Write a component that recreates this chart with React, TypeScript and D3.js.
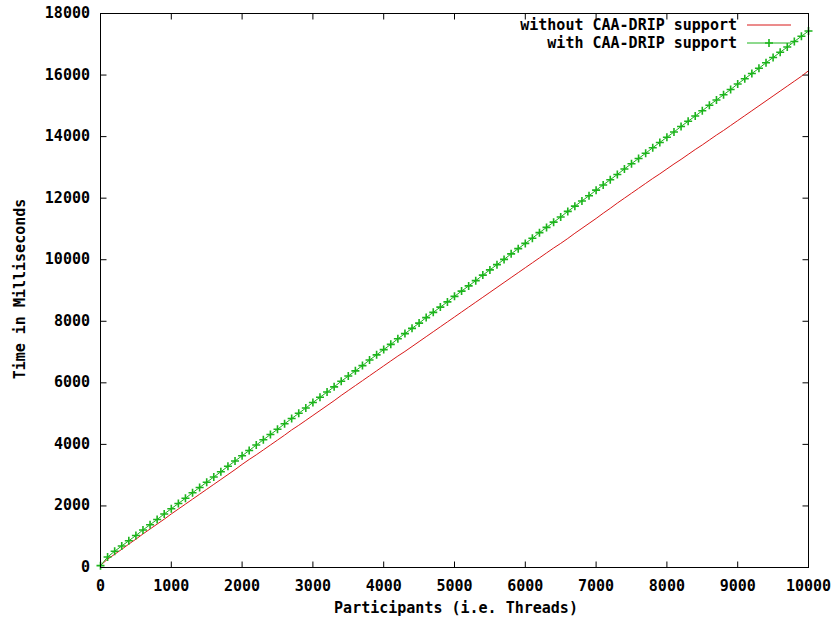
import React, { useEffect, useRef } from "react";
import * as d3 from "d3";

// participants sampled every 100 threads
const threads = d3.range(0, 10001, 100);

const withoutSupport = [
  70, 270, 430, 590, 760, 920, 1090, 1250, 1410, 1570, 1740, 1900, 2060, 2220, 2380, 2540, 2700, 2860, 3020, 3180,
  3350, 3510, 3660, 3820, 3980, 4140, 4300, 4470, 4620, 4780, 4940, 5100, 5260, 5420, 5590, 5750, 5910, 6070, 6230, 6390,
  6550, 6710, 6870, 7020, 7180, 7340, 7500, 7660, 7820, 7980, 8140, 8300, 8460, 8620, 8780, 8940, 9100, 9260, 9420, 9580,
  9740, 9900, 10060, 10220, 10380, 10530, 10690, 10860, 11020, 11180, 11340, 11510, 11670, 11840, 12000, 12160, 12320, 12480, 12640, 12790,
  12950, 13110, 13260, 13420, 13580, 13730, 13890, 14050, 14200, 14360, 14520, 14680, 14840, 15000, 15160, 15320, 15480, 15640, 15800, 15960,
  16140,
];

const withSupport = [
  60, 340, 530, 700, 870, 1040, 1220, 1390, 1560, 1740, 1910, 2080, 2250, 2430, 2600, 2770, 2940, 3110, 3290, 3460,
  3630, 3800, 3980, 4150, 4320, 4490, 4670, 4840, 5010, 5180, 5360, 5530, 5700, 5870, 6050, 6220, 6390, 6560, 6740, 6910,
  7080, 7250, 7430, 7600, 7770, 7940, 8120, 8290, 8460, 8630, 8810, 8980, 9150, 9320, 9500, 9670, 9840, 10010, 10190, 10360,
  10530, 10700, 10880, 11050, 11220, 11390, 11570, 11740, 11910, 12080, 12260, 12430, 12600, 12770, 12950, 13120, 13290, 13460, 13640, 13810,
  13980, 14150, 14330, 14500, 14670, 14840, 15020, 15190, 15360, 15530, 15710, 15880, 16050, 16220, 16400, 16570, 16740, 16910, 17090, 17260,
  17430,
];

const xTicks = d3.range(0, 10001, 1000);
const yTicks = d3.range(0, 18001, 2000);

const seriesNames = ["without CAA-DRIP support", "with CAA-DRIP support"];
const RED = "#d81818";
const GREEN = "#1cb41c";
const FONT = "'DejaVu Sans Mono', monospace";

const App = () => {
  const svgRef = useRef<SVGSVGElement>(null);

  useEffect(() => {
    const svg = d3.select(svgRef.current);
    svg.selectAll("*").remove();

    const left = 100.5, right = 808.5, top = 13.5, bottom = 567.5;
    const x = d3.scaleLinear().domain([0, 10000]).range([left, right]);
    const y = d3.scaleLinear().domain([0, 18000]).range([bottom, top]);
    const tl = 6;

    const g = svg.append("g");

    const label = (sel: any) =>
      sel
        .attr("dominant-baseline", "middle")
        .attr("font-family", FONT)
        .attr("font-weight", "bold")
        .attr("font-size", 15)
        .attr("fill", "#000");

    // ticks on all four sides, pointing inwards
    xTicks.forEach((t) => {
      g.append("line").attr("x1", x(t)).attr("x2", x(t)).attr("y1", bottom).attr("y2", bottom - tl).attr("stroke", "#000");
      g.append("line").attr("x1", x(t)).attr("x2", x(t)).attr("y1", top).attr("y2", top + tl).attr("stroke", "#000");
      g.append("text").attr("x", x(t)).attr("y", 586).attr("text-anchor", "middle").call(label).text(t);
    });
    yTicks.forEach((t) => {
      g.append("line").attr("x1", left).attr("x2", left + tl).attr("y1", y(t)).attr("y2", y(t)).attr("stroke", "#000");
      g.append("line").attr("x1", right).attr("x2", right - tl).attr("y1", y(t)).attr("y2", y(t)).attr("stroke", "#000");
      g.append("text").attr("x", 90).attr("y", y(t)).attr("text-anchor", "end").call(label).text(t);
    });

    const line = d3
      .line<number>()
      .x((d, i) => x(threads[i]))
      .y((d) => y(d));

    // red series
    g.append("path").datum(withoutSupport).attr("d", line).attr("fill", "none").attr("stroke", RED).attr("stroke-width", 1);

    // green series with + markers
    g.append("path").datum(withSupport).attr("d", line).attr("fill", "none").attr("stroke", GREEN).attr("stroke-width", 1);
    const m = 4;
    withSupport.forEach((v, i) => {
      const cx = x(threads[i]), cy = y(v);
      g.append("path")
        .attr("d", `M${cx - m},${cy}L${cx + m},${cy}M${cx},${cy - m}L${cx},${cy + m}`)
        .attr("stroke", GREEN)
        .attr("stroke-width", 1.6);
    });

    // border
    g.append("rect")
      .attr("x", left)
      .attr("y", top)
      .attr("width", right - left)
      .attr("height", bottom - top)
      .attr("fill", "none")
      .attr("stroke", "#000");

    // legend
    const legendY = [25, 43];
    const colors = [RED, GREEN];
    seriesNames.forEach((name, i) => {
      g.append("text").attr("x", 737).attr("y", legendY[i]).attr("text-anchor", "end").call(label).text(name);
      g.append("line")
        .attr("x1", 747)
        .attr("x2", 791)
        .attr("y1", legendY[i])
        .attr("y2", legendY[i])
        .attr("stroke", colors[i]);
    });
    g.append("path")
      .attr("d", `M769,${legendY[1] - 4}L769,${legendY[1] + 4}M765,${legendY[1]}L773,${legendY[1]}`)
      .attr("stroke", GREEN)
      .attr("stroke-width", 1.6);

    // axis titles
    g.append("text").attr("x", 456).attr("y", 608).attr("text-anchor", "middle").call(label).text("Participants (i.e. Threads)");
    g.append("text")
      .attr("transform", "translate(20,289) rotate(-90)")
      .attr("text-anchor", "middle")
      .call(label)
      .text("Time in Milliseconds");
  }, []);

  return (
    <svg
      ref={svgRef}
      width={837}
      height={622}
      style={{ position: "absolute", left: 0, top: 0, background: "#fff" }}
    />
  );
};

export default App;
